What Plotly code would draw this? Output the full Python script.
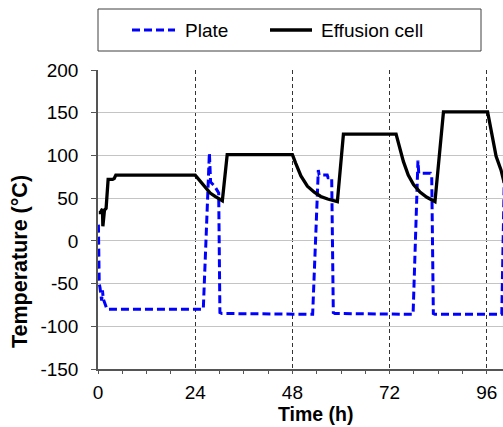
import plotly.graph_objects as go

# Effusion cell temperature (°C) vs time (h)
cell_time = [0.2, 0.6, 0.9, 1.1, 1.2, 1.4, 1.6, 2.0, 2.3, 2.5, 3.0, 3.6, 4.0, 4.4,
             24.0, 24.5, 25.2, 26.0, 26.8, 27.7, 28.9, 29.8, 30.7, 31.9,
             48.0, 48.8, 50.1, 51.7, 53.4, 55.0, 56.7, 59.1, 60.6,
             73.6, 74.4, 75.4, 76.6, 77.9, 79.5, 81.2, 83.2, 85.3,
             96.2, 97.0, 98.3, 99.5, 100.3]
cell_temp = [33, 33, 36, 37, 17, 28, 36, 38, 60, 72, 72, 72, 73, 77,
             77, 74, 70, 65, 61, 56, 52, 49.5, 47, 101,
             101, 91, 76, 64, 57, 52, 49, 46, 125,
             125, 109, 93, 77, 66, 57, 51, 46, 151,
             151, 130, 99, 83, 68]

# Plate temperature (°C) vs time (h)
plate_time = [0.1, 0.2, 0.3, 0.5, 0.7, 0.9, 1.1, 1.3, 1.6, 1.9, 2.2,
              26.0, 27.5, 27.8, 28.8, 29.8, 30.1, 30.6,
              53.0, 54.4, 54.6, 56.6, 56.8, 57.7, 58.1, 58.5,
              77.8, 79.0, 79.2, 82.1, 82.4, 82.8, 83.2,
              99.7, 100.4]
plate_temp = [19, -10, -50, -55, -65, -70, -58, -68, -72, -75, -80,
              -80, 103, 69, 64, 56, -84, -85,
              -86, 83, 77, 77, 74, 74, -84, -85,
              -86, 94, 79, 79, 76, -85, -86,
              -86, 95]

x_ticks = [0, 24, 48, 72, 96]
y_ticks = [-150, -100, -50, 0, 50, 100, 150, 200]

FONT = "Liberation Sans, Arial, sans-serif"
BLUE = "#0000ff"
PLATE_DASH = "8px,4px"

fig = go.Figure()
fig.add_trace(go.Scatter(x=plate_time, y=plate_temp, mode="lines", name="Plate",
                         line=dict(color=BLUE, width=3, dash=PLATE_DASH),
                         showlegend=False))
fig.add_trace(go.Scatter(x=cell_time, y=cell_temp, mode="lines", name="Effusion cell",
                         line=dict(color="black", width=3.3),
                         showlegend=False))

# plot area in pixels: left 98, right 503, top 70, bottom 369
L, R, T, B = 98, 503, 70, 369
W, H = R - L, B - T


def px(xp):
    return (xp - L) / W


def py(yp):
    return (B - yp) / H


# legend box drawn by hand
shapes = [
    dict(type="rect", xref="paper", yref="paper", x0=px(98), x1=px(481), y0=py(51), y1=py(9),
         line=dict(color="#404040", width=1), fillcolor="white", layer="above"),
    dict(type="line", xref="paper", yref="paper", x0=px(132), x1=px(175), y0=py(30), y1=py(30),
         line=dict(color=BLUE, width=3, dash=PLATE_DASH), layer="above"),
    dict(type="line", xref="paper", yref="paper", x0=px(270), x1=px(312), y0=py(30), y1=py(30),
         line=dict(color="black", width=3.3), layer="above"),
]
annotations = [
    dict(text="Plate", xref="paper", yref="paper", x=px(183), y=py(30.5), xanchor="left",
         yanchor="middle", showarrow=False, font=dict(family=FONT, size=19, color="black")),
    dict(text="Effusion cell", xref="paper", yref="paper", x=px(319), y=py(30.5), xanchor="left",
         yanchor="middle", showarrow=False, font=dict(family=FONT, size=19, color="black")),
    dict(text="<b>Time (h)</b>", xref="paper", yref="paper", x=px(315), y=py(413.5),
         xanchor="center", yanchor="middle", showarrow=False,
         font=dict(family=FONT, size=19.5, color="black")),
    dict(text="<b>Temperature (°C)</b>", xref="paper", yref="paper", x=px(20), y=py(262),
         xanchor="center", yanchor="middle", textangle=-90, showarrow=False,
         font=dict(family=FONT, size=21.5, color="black")),
]

fig.update_layout(
    width=503, height=427,
    margin=dict(l=L, r=0, t=T, b=427 - B, pad=0),
    paper_bgcolor="white", plot_bgcolor="white",
    font=dict(family=FONT, size=19, color="black"),
    shapes=shapes, annotations=annotations,
    xaxis=dict(range=[0, 100], tickvals=x_ticks, ticktext=[str(v) for v in x_ticks],
               showgrid=True, gridcolor="#333333", griddash="4px,3px", gridwidth=1,
               showline=True, linecolor="#555555", linewidth=1.5,
               ticks="outside", ticklen=3, tickcolor="#555555", tickwidth=1,
               minor=dict(dtick=6, tick0=0, ticks="outside", ticklen=3, tickcolor="#555555",
                          showgrid=False),
               ticklabelstandoff=2, zeroline=False, fixedrange=True),
    xaxis2=dict(range=[0, 100], overlaying="x", anchor="y", side="bottom",
                tickvals=x_ticks, showticklabels=False, showgrid=False, showline=False,
                ticks="inside", ticklen=3, tickcolor="#555555", tickwidth=1,
                minor=dict(dtick=6, tick0=0, ticks="inside", ticklen=3, tickcolor="#555555",
                           showgrid=False),
                zeroline=False),
    yaxis=dict(range=[-150, 200], tickvals=y_ticks, ticktext=[str(v) for v in y_ticks],
               showgrid=True, gridcolor="#c4c4c4", gridwidth=1,
               showline=True, linecolor="#555555", linewidth=1.5,
               ticks="outside", ticklen=5, tickcolor="#555555", tickwidth=1,
               ticklabelstandoff=9, zeroline=False, fixedrange=True),
)

fig.write_html("out.html")
